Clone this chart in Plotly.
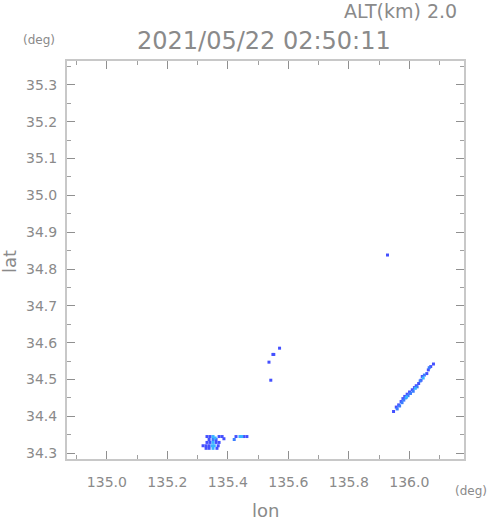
import plotly.graph_objects as go

# ---- data (lon, lat in degrees) ----
blue_lon = [135.331, 135.341, 135.371, 135.381, 135.338, 135.361, 135.331, 135.341, 135.361, 135.371,
            135.318, 135.328, 135.338, 135.368, 135.328, 135.338, 135.364, 135.387,
            135.427, 135.453, 135.463,
            135.571, 135.549, 135.552, 135.536, 135.542, 135.928,
            136.080, 136.071, 136.058, 136.043, 136.031, 136.017, 136.010, 136.001, 135.993,
            135.985, 135.973, 135.965, 135.957, 135.948, 136.063, 136.039, 136.023, 135.979]
blue_lat = [34.345, 34.345, 34.345, 34.345, 34.337, 34.337, 34.329, 34.329, 34.329, 34.329,
            34.320, 34.320, 34.320, 34.320, 34.313, 34.313, 34.313, 34.339,
            34.345, 34.345, 34.345,
            34.585, 34.568, 34.568, 34.547, 34.498, 34.838,
            34.542, 34.535, 34.516, 34.508, 34.489, 34.478, 34.472, 34.466, 34.460,
            34.454, 34.440, 34.431, 34.425, 34.413, 34.526, 34.498, 34.483, 34.448]

lblue_lon = [135.351, 135.421, 136.066, 136.050, 136.036, 136.026, 136.013, 136.004, 135.996,
             135.988, 135.976, 135.968, 135.960, 135.982]
lblue_lat = [34.337, 34.337, 34.532, 34.512, 34.496, 34.480, 34.468, 34.462, 34.456,
             34.450, 34.437, 34.428, 34.420, 34.444]

cyan_lon = [135.351, 135.358, 135.351, 135.348, 135.355, 135.351, 135.440, 135.446, 136.046, 136.020, 135.991]
cyan_lat = [34.345, 34.341, 34.329, 34.320, 34.320, 34.313, 34.345, 34.345, 34.504, 34.476, 34.452]

x_ticks = [135.0, 135.2, 135.4, 135.6, 135.8, 136.0]
y_ticks = [34.3, 34.4, 34.5, 34.6, 34.7, 34.8, 34.9, 35.0, 35.1, 35.2, 35.3]

title_text = "2021/05/22 02:50:11"
alt_text = "ALT(km) 2.0"

TXT = "#8a8a8a"
FONT = "DejaVu Sans"

fig = go.Figure()
for lon, lat, col in [(blue_lon, blue_lat, "#4450ff"),
                      (lblue_lon, lblue_lat, "#3a7dff"),
                      (cyan_lon, cyan_lat, "#38b4ff")]:
    fig.add_trace(go.Scatter(x=lon, y=lat, mode="markers",
                             marker=dict(symbol="square", size=3, color=col, line=dict(width=0)),
                             showlegend=False, hoverinfo="skip"))

axis_common = dict(showgrid=False, zeroline=False, ticks="inside", mirror="ticks",
                   showline=True, linecolor="#c8c8c8", linewidth=2,
                   tickcolor="#909090", ticklen=8, tickwidth=1,
                   tickfont=dict(family=FONT, size=14, color=TXT))

fig.update_xaxes(range=[134.868, 136.181], tickvals=x_ticks, tickformat=".1f",
                 minor=dict(dtick=0.1, tick0=135.0, ticks="inside", ticklen=4, tickcolor="#a0a0a0"),
                 ticklabelstandoff=9, **axis_common)
fig.update_yaxes(range=[34.284, 35.365], tickvals=y_ticks, tickformat=".1f",
                 minor=dict(dtick=0.05, tick0=34.3, ticks="inside", ticklen=4, tickcolor="#a0a0a0"),
                 ticklabelstandoff=5, **axis_common)

fig.update_layout(
    width=491, height=521,
    margin=dict(l=67, r=27, t=61, b=62),
    paper_bgcolor="white", plot_bgcolor="white",
    font=dict(family=FONT, color=TXT),
)


def fig_ann(text, px, py, size, angle=0):
    # px, py in figure pixels -> paper coords (plot area from x=67..464, y=61..459)
    xp = (px - 67) / (464 - 67)
    yp = (459 - py) / (459 - 61)
    fig.add_annotation(text=text, x=xp, y=yp, xref="paper", yref="paper",
                       xanchor="center", yanchor="middle", showarrow=False, textangle=angle,
                       font=dict(family=FONT, size=size, color=TXT))


fig_ann(title_text, 264, 41, 24)
fig_ann(alt_text, 400, 11, 19)
fig_ann("(deg)", 39, 40, 12)
fig_ann("(deg)", 471, 491, 12)
fig_ann("lon", 265, 510, 18)
fig_ann("lat", 9, 262, 18, angle=-90)

fig.write_html("out.html", config={"displayModeBar": False},
               post_script="document.body.style.margin='0';document.body.style.overflow='hidden';")
